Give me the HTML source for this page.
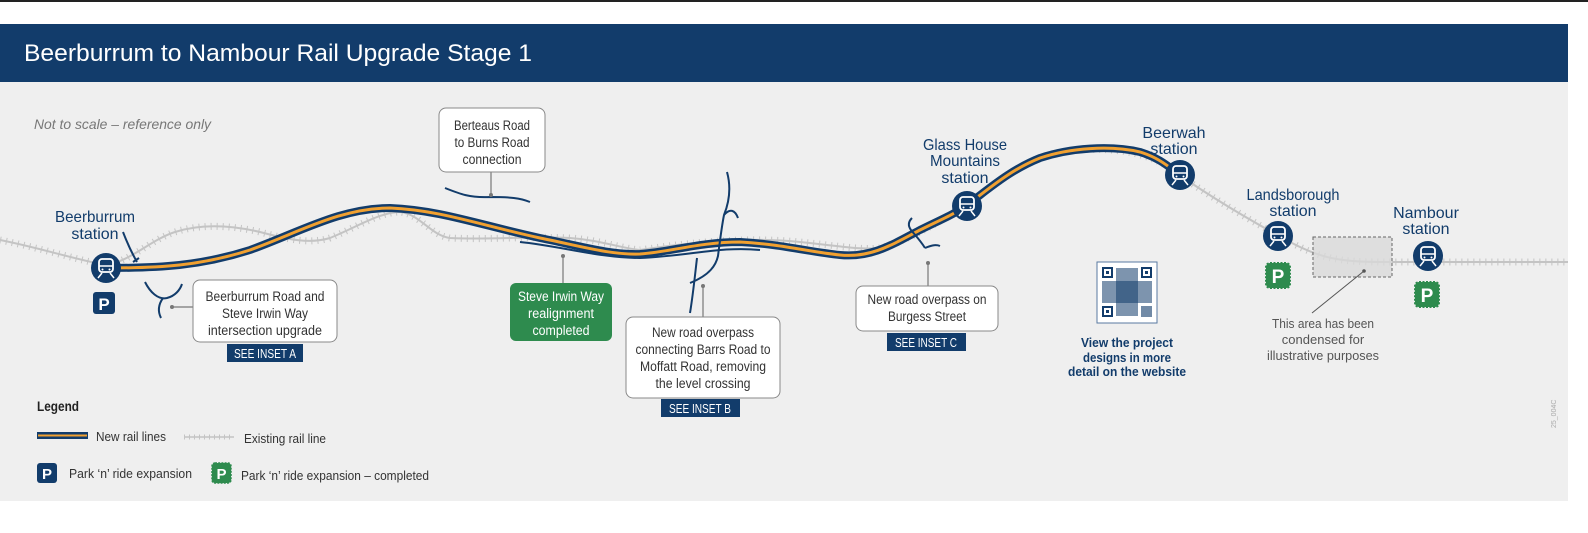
<!DOCTYPE html>
<html><head><meta charset="utf-8"><style>
html,body{margin:0;padding:0;background:#fff;}
svg{display:block;}
text{font-family:"Liberation Sans Narrow","Liberation Sans",sans-serif;}
</style></head><body>
<svg width="1588" height="533" viewBox="0 0 1588 533" xmlns="http://www.w3.org/2000/svg">
<defs>
<path id="ex1" d="M0,240 C40,248 70,258 105,265 C130,262 150,240 175,232 C200,224 230,225 260,232 C290,240 310,244 330,238 C355,228 380,212 400,212 C420,214 430,235 450,238 C490,240 530,236 570,238 C600,240 620,248 640,250 C680,244 740,236 800,242 C840,246 860,250 880,248 C910,240 930,226 960,210 C990,190 1020,160 1060,152 C1100,146 1140,150 1165,165 C1200,190 1240,215 1290,242 C1320,258 1340,262 1380,262 L1568,262"/>
<path id="nr" d="M105,268 C160,268 200,266 250,250 C300,232 340,208 390,208 C440,210 480,225 540,238 C580,246 610,255 640,254 C670,252 700,242 740,242 C780,244 810,252 840,255 C870,258 890,246 920,230 C940,220 955,214 967,205 C990,188 1010,170 1040,158 C1070,148 1110,145 1140,152 C1160,158 1170,168 1180,175"/>
<g id="stn">
 <circle r="15" fill="#123c6b"/>
 <rect x="-7" y="-9" width="14" height="13" rx="3" fill="none" stroke="#fff" stroke-width="1.8"/>
 <line x1="-7" y1="-2" x2="7" y2="-2" stroke="#fff" stroke-width="1.5"/>
 <circle cx="-3.5" cy="1.5" r="1" fill="#fff"/><circle cx="3.5" cy="1.5" r="1" fill="#fff"/>
 <line x1="-4" y1="5" x2="-8" y2="10" stroke="#fff" stroke-width="1.5"/>
 <line x1="4" y1="5" x2="8" y2="10" stroke="#fff" stroke-width="1.5"/>
</g>
<g id="pg">
 <rect x="0" y="0" width="24" height="25" rx="4" fill="#2e8b4e" stroke="#2e8b4e" stroke-width="2" stroke-dasharray="2 1.5"/>
 <text x="12" y="20" text-anchor="middle" font-size="19" font-weight="bold" fill="#fff" style="font-family:'Liberation Sans',sans-serif">P</text>
</g>
</defs>
<rect x="0" y="0" width="1588" height="2" fill="#222"/>
<rect x="0" y="24" width="1568" height="58" fill="#123c6b"/>
<text x="24" y="61" font-size="24" fill="#fff" textLength="508" lengthAdjust="spacingAndGlyphs" style="font-family:'Liberation Sans',sans-serif">Beerburrum to Nambour Rail Upgrade Stage 1</text>
<rect x="0" y="82" width="1568" height="419" fill="#efefef"/>
<text x="34" y="129" font-size="14" font-style="italic" fill="#777" textLength="177" lengthAdjust="spacingAndGlyphs">Not to scale – reference only</text>

<!-- existing rail -->
<use href="#ex1" fill="none" stroke="#c4c4c4" stroke-width="2"/>
<use href="#ex1" fill="none" stroke="#c4c4c4" stroke-width="7" stroke-dasharray="1 5"/>
<!-- new rail -->
<use href="#nr" fill="none" stroke="#123c6b" stroke-width="8"/>
<use href="#nr" fill="none" stroke="#f0a030" stroke-width="3"/>

<!-- roads -->
<g fill="none" stroke="#123c6b" stroke-width="2">
<path d="M123,232 C128,245 133,255 137,262 M133,262 l6,-4"/>
<path d="M145,282 C150,292 158,300 167,298 C175,296 180,290 182,284 M163,298 C158,305 158,312 161,318"/>
<path d="M445,188 C460,194 470,198 490,197 C510,197 520,198 530,202"/>
<path d="M520,242 C560,246 600,258 640,258 C690,256 720,246 760,250"/>
<path d="M727,172 C732,190 728,205 724,215 C722,225 720,240 718,256 C716,265 710,275 690,283 M724,215 C730,208 735,210 738,218 M697,258 C695,275 693,295 690,313"/>
<path d="M912,218 C908,222 908,226 911,230 C915,235 920,240 925,248 M925,248 C930,246 935,244 940,246"/>
</g>

<!-- stations -->
<use href="#stn" x="106" y="268"/>
<use href="#stn" x="967" y="206"/>
<use href="#stn" x="1180" y="175"/>
<use href="#stn" x="1278" y="236"/>
<use href="#stn" x="1428" y="256"/>
<g font-size="16" fill="#123c6b" text-anchor="middle">
<text x="95" y="222" textLength="80" lengthAdjust="spacingAndGlyphs">Beerburrum</text><text x="95" y="239">station</text>
<text x="965" y="150" textLength="84" lengthAdjust="spacingAndGlyphs">Glass House</text><text x="965" y="166" textLength="70" lengthAdjust="spacingAndGlyphs">Mountains</text><text x="965" y="183">station</text>
<text x="1174" y="138">Beerwah</text><text x="1174" y="154">station</text>
<text x="1293" y="200" textLength="93" lengthAdjust="spacingAndGlyphs">Landsborough</text><text x="1293" y="216">station</text>
<text x="1426" y="218">Nambour</text><text x="1426" y="234">station</text>
</g>
<rect x="93" y="292" width="22" height="22" rx="3" fill="#123c6b"/>
<text x="104" y="310" text-anchor="middle" font-size="17" font-weight="bold" fill="#fff" style="font-family:'Liberation Sans',sans-serif">P</text>
<use href="#pg" x="1266" y="263"/>
<use href="#pg" x="1415" y="282"/>

<!-- condensed area -->
<rect x="1313" y="237" width="79" height="40" fill="#d9d9d9" fill-opacity="0.8" stroke="#666" stroke-width="1" stroke-dasharray="3 2"/>
<line x1="1364" y1="271" x2="1312" y2="313" stroke="#555" stroke-width="1"/>
<circle cx="1364" cy="271" r="1.8" fill="#555"/>
<g font-size="13" fill="#555" text-anchor="middle">
<text x="1323" y="328" textLength="102" lengthAdjust="spacingAndGlyphs">This area has been</text><text x="1323" y="344">condensed for</text><text x="1323" y="360" textLength="112" lengthAdjust="spacingAndGlyphs">illustrative purposes</text>
</g>

<!-- QR -->
<rect x="1097" y="262" width="60" height="61" fill="#fff" stroke="#5a7aa0"/>
<g fill="#123c6b">
<rect x="1102" y="267" width="11" height="11"/><rect x="1141" y="267" width="11" height="11"/><rect x="1102" y="306" width="11" height="11"/>
<rect x="1116" y="268" width="22" height="48" opacity="0.55"/>
<rect x="1102" y="281" width="50" height="22" opacity="0.55"/>
<rect x="1141" y="306" width="11" height="11" opacity="0.6"/>
</g>
<g fill="#fff"><rect x="1104" y="269" width="7" height="7"/><rect x="1143" y="269" width="7" height="7"/><rect x="1104" y="308" width="7" height="7"/></g>
<g fill="#123c6b"><rect x="1106" y="271" width="3" height="3"/><rect x="1145" y="271" width="3" height="3"/><rect x="1106" y="310" width="3" height="3"/></g>
<g font-size="13" font-weight="bold" fill="#123c6b" text-anchor="middle">
<text x="1127" y="347" textLength="92" lengthAdjust="spacingAndGlyphs">View the project</text><text x="1127" y="362" textLength="88" lengthAdjust="spacingAndGlyphs">designs in more</text><text x="1127" y="376" textLength="118" lengthAdjust="spacingAndGlyphs">detail on the website</text>
</g>

<!-- callouts -->
<g stroke="#777" stroke-width="1.2">
<line x1="491" y1="172" x2="491" y2="195"/>
<line x1="172" y1="307" x2="194" y2="307"/>
<line x1="563" y1="256" x2="563" y2="284"/>
<line x1="703" y1="286" x2="703" y2="318"/>
<line x1="928" y1="263" x2="928" y2="287"/>
</g>
<g fill="#777"><circle cx="491" cy="195" r="2"/><circle cx="172" cy="307" r="2"/><circle cx="563" cy="256" r="2"/><circle cx="703" cy="286" r="2"/><circle cx="928" cy="263" r="2"/></g>
<g fill="#fff" stroke="#888" stroke-width="1">
<rect x="439" y="108" width="106" height="64" rx="7"/>
<rect x="193" y="280" width="144" height="62" rx="7"/>
<rect x="626" y="317" width="154" height="81" rx="7"/>
<rect x="856" y="286" width="142" height="45" rx="7"/>
</g>
<rect x="510" y="283" width="102" height="58" rx="6" fill="#2e8b4e"/>
<g font-size="13.5" fill="#333" text-anchor="middle" lengthAdjust="spacingAndGlyphs">
<text x="492" y="130" textLength="76" lengthAdjust="spacingAndGlyphs">Berteaus Road</text><text x="492" y="147" textLength="75" lengthAdjust="spacingAndGlyphs">to Burns Road</text><text x="492" y="164" textLength="59" lengthAdjust="spacingAndGlyphs">connection</text>
<text x="265" y="301" textLength="119" lengthAdjust="spacingAndGlyphs">Beerburrum Road and</text><text x="265" y="318" textLength="86" lengthAdjust="spacingAndGlyphs">Steve Irwin Way</text><text x="265" y="335" textLength="114" lengthAdjust="spacingAndGlyphs">intersection upgrade</text>
<text x="703" y="337" textLength="102" lengthAdjust="spacingAndGlyphs">New road overpass</text><text x="703" y="354" textLength="135" lengthAdjust="spacingAndGlyphs">connecting Barrs Road to</text><text x="703" y="371" textLength="126" lengthAdjust="spacingAndGlyphs">Moffatt Road, removing</text><text x="703" y="388" textLength="95" lengthAdjust="spacingAndGlyphs">the level crossing</text>
<text x="927" y="304" textLength="119" lengthAdjust="spacingAndGlyphs">New road overpass on</text><text x="927" y="321" textLength="78" lengthAdjust="spacingAndGlyphs">Burgess Street</text>
</g>
<g font-size="13.5" fill="#fff" text-anchor="middle">
<text x="561" y="301" textLength="86" lengthAdjust="spacingAndGlyphs">Steve Irwin Way</text><text x="561" y="318" textLength="66" lengthAdjust="spacingAndGlyphs">realignment</text><text x="561" y="335" textLength="57" lengthAdjust="spacingAndGlyphs">completed</text>
</g>
<g fill="#123c6b">
<rect x="227" y="344" width="76" height="18"/>
<rect x="661" y="399" width="79" height="18"/>
<rect x="887" y="333" width="79" height="18"/>
</g>
<g font-size="12.5" fill="#fff" text-anchor="middle">
<text x="265" y="358" textLength="62" lengthAdjust="spacingAndGlyphs">SEE INSET A</text><text x="700" y="413" textLength="62" lengthAdjust="spacingAndGlyphs">SEE INSET B</text><text x="926" y="347" textLength="62" lengthAdjust="spacingAndGlyphs">SEE INSET C</text>
</g>

<!-- legend -->
<text x="37" y="411" font-size="14" font-weight="bold" fill="#222" textLength="42" lengthAdjust="spacingAndGlyphs">Legend</text>
<rect x="37" y="432" width="51" height="7" fill="#123c6b"/><rect x="38" y="434.5" width="49" height="2" fill="#f0a030"/>
<text x="96" y="441" font-size="13" fill="#333" textLength="70" lengthAdjust="spacingAndGlyphs">New rail lines</text>
<line x1="184" y1="437" x2="234" y2="437" stroke="#c4c4c4" stroke-width="1.5"/>
<line x1="184" y1="437" x2="234" y2="437" stroke="#c4c4c4" stroke-width="5" stroke-dasharray="1 4"/>
<text x="244" y="443" font-size="13" fill="#333" textLength="82" lengthAdjust="spacingAndGlyphs">Existing rail line</text>
<rect x="37" y="463" width="20" height="20" rx="3" fill="#123c6b"/>
<text x="47" y="479" text-anchor="middle" font-size="15" font-weight="bold" fill="#fff" style="font-family:'Liberation Sans',sans-serif">P</text>
<text x="69" y="478" font-size="13" fill="#333" textLength="123" lengthAdjust="spacingAndGlyphs">Park ‘n’ ride expansion</text>
<rect x="212" y="463" width="19" height="20" rx="3" fill="#2e8b4e" stroke="#2e8b4e" stroke-width="1.5" stroke-dasharray="2 1.2"/>
<text x="221.5" y="479" text-anchor="middle" font-size="15" font-weight="bold" fill="#fff" style="font-family:'Liberation Sans',sans-serif">P</text>
<text x="241" y="480" font-size="13" fill="#333" textLength="188" lengthAdjust="spacingAndGlyphs">Park ‘n’ ride expansion – completed</text>
<text x="1556" y="428" font-size="7" fill="#aaa" transform="rotate(-90 1556 428)">25_004C</text>
</svg>
</body></html>
